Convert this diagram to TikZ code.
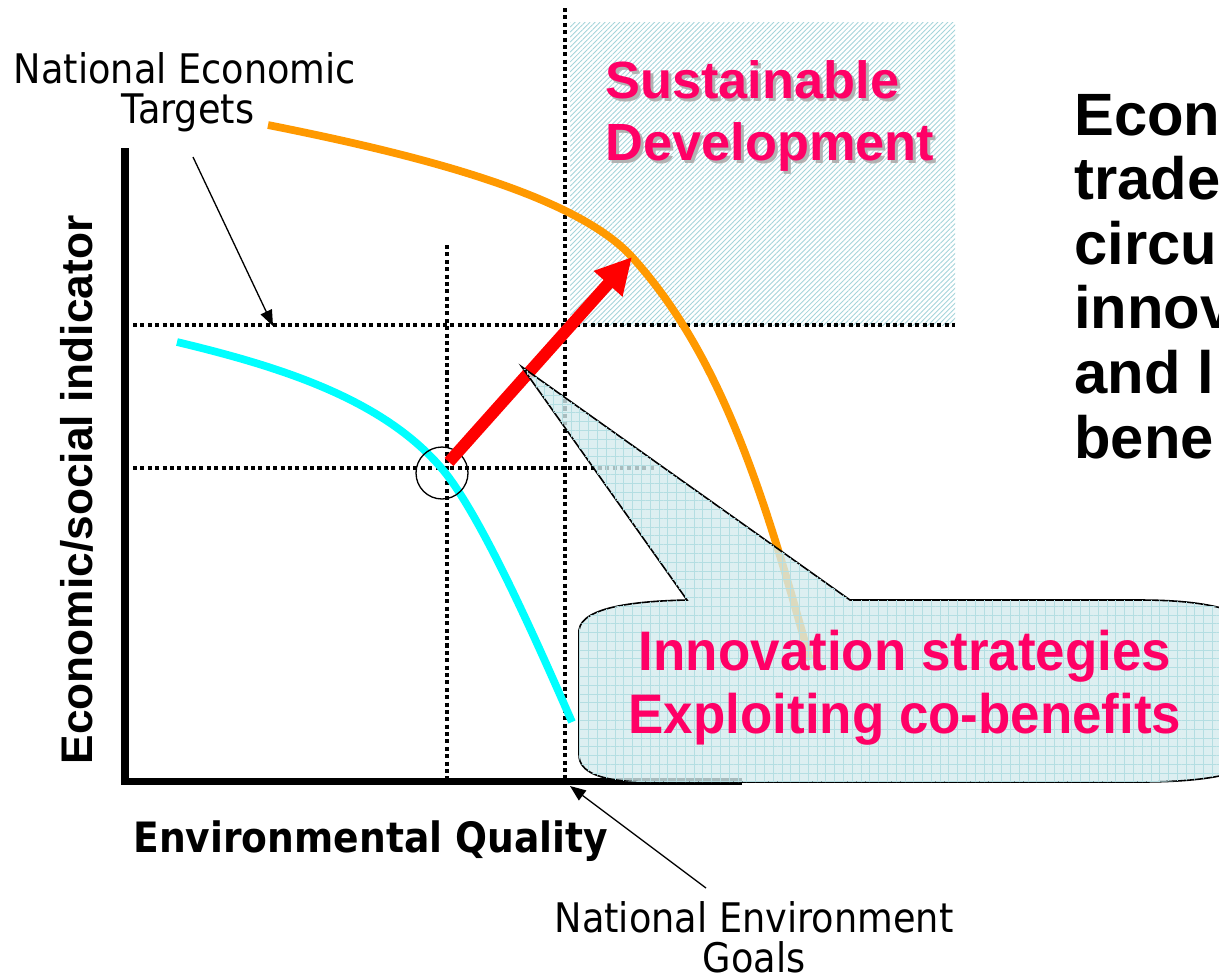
\documentclass[tikz,border=0pt]{standalone}
\usepackage{fontspec}
\setmainfont{Liberation Sans}
\newfontfamily\tahoma[FakeStretch=0.9]{DejaVu Sans}
\newfontfamily\narrowsans[FakeStretch=0.95]{Liberation Sans}
\usetikzlibrary{arrows.meta,patterns.meta}
\definecolor{pinktext}{HTML}{FF0066}
\definecolor{curveorange}{HTML}{FF9900}
\definecolor{curvecyan}{HTML}{00FFFF}
\definecolor{hatchteal}{RGB}{165,212,218}
\definecolor{calloutfill}{RGB}{212,235,238}
\definecolor{calloutgrid}{RGB}{180,222,226}
\tikzset{
  guide/.style={line width=2.4pt, dash pattern=on 2.3pt off 1.9pt},
  curve/.style={line width=4.4pt},
  thinarrow/.style={line width=0.75pt, -{Triangle[length=9pt,width=7pt]}},
  bigarrow/.style={red, line width=6.8pt, -{Triangle[length=0.72cm,width=0.72cm]}},
  tahomatext/.style={font=\tahoma\fontsize{23.2}{23.2}\selectfont, inner sep=0pt, anchor=base},
  pinktitle/.style={font=\bfseries\fontsize{29.8}{30}\selectfont, text=pinktext, inner sep=0pt, anchor=base west},
  pinkshadow/.style={pinktitle, text=black!30},
  pinkcallout/.style={font=\narrowsans\bfseries\fontsize{31.7}{32}\selectfont, text=pinktext, inner sep=0pt, anchor=base},
  sidetext/.style={font=\bfseries\fontsize{34}{34}\selectfont, inner sep=0pt, anchor=base west}
}

\begin{document}
\begin{tikzpicture}[x=0.02cm, y=-0.02cm]
    \useasboundingbox (0,0) rectangle (1219,975);

    % target region
    \path[pattern={Lines[angle=45,distance=2pt,line width=0.5pt]}, pattern color=hatchteal] (570,22) rectangle (955,325);

    % guide lines
    \draw[guide] (133,325) -- (955,325);
    \draw[guide] (133,468) -- (655,468);
    \draw[guide] (447,245) -- (447,780);
    \draw[guide] (565,8) -- (565,780);

    % axes
    \draw[line width=4pt] (125,148) -- (125,781) -- (742,781);

    % curves
    \draw[curve, curvecyan] (177,342) .. controls (277,366) and (383,398) .. (443,470)
                                      .. controls (483,518) and (542,654) .. (572,722);
    \draw[curve, curveorange] (268,125) .. controls (398,151) and (572,191) .. (632,257)
                                        .. controls (722,356) and (765,498) .. (810,660);

    \node[draw, circle, minimum size=1.04cm, inner sep=0pt, line width=0.75pt] (cross) at (442,473) {};

    \coordinate (shiftfrom) at (449,462);
    \coordinate (shiftto) at (632,257);
    \draw[bigarrow] (shiftfrom) -- (shiftto);

    % callout
    \draw[line width=0.9pt, fill=calloutfill, fill opacity=0.8,
          postaction={pattern={Hatch[angle=0,distance=5pt,line width=0.35pt]}, pattern color=calloutgrid}]
      (579,630) .. controls (582,606) and (640,601) .. (687,600)
      -- (522,367) -- (850,600) -- (1140,600)
      .. controls (1220,600) and (1260,615) .. (1260,640) -- (1260,750)
      .. controls (1260,770) and (1220,782) .. (1140,782) -- (650,782)
      .. controls (600,782) and (579,772) .. (579,755) -- cycle;

    % labels
    \node[tahomatext] (net1) at (185,83) {National Economic};
    \node[tahomatext] (net2) at (188,123) {Targets};
    \coordinate (netfrom) at (193,157);
    \coordinate (netto) at (273,326);
    \draw[thinarrow] (netfrom) -- (netto);

    \node[tahomatext] (neg1) at (754,932) {National Environment};
    \node[tahomatext] (neg2) at (754,972) {Goals};
    \coordinate (negfrom) at (706,888);
    \coordinate (negto) at (570,786);
    \draw[thinarrow] (negfrom) -- (negto);

    \node[font=\tahoma\bfseries\fontsize{23.8}{24}\selectfont, inner sep=0pt, anchor=base west] (xlabel) at (133,852) {Environmental Quality};
    \node[font=\bfseries\fontsize{25.2}{26}\selectfont, inner sep=0pt, anchor=base, rotate=90] (ylabel) at (92,490) {Economic/social indicator};

    \node[pinkshadow] (sd1s) at (608,101) {Sustainable};
    \node[pinkshadow] (sd2s) at (608,163) {Development};
    \node[pinktitle] (sd1) at (605,98) {Sustainable};
    \node[pinktitle] (sd2) at (605,160) {Development};

    \node[pinkcallout] (is1) at (905,670) {Innovation strategies};
    \node[pinkcallout] (is2) at (905,733) {Exploiting co-benefits};

    \foreach \w [count=\i] in {Econ,trade,circu,innov,and l,bene}
        \node[sidetext] (side\i) at (1074,{70.4+64.6*\i}) {\w};

\end{tikzpicture}
\end{document}
